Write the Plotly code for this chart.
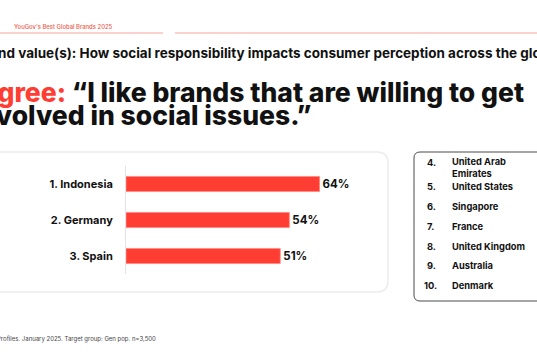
import plotly.graph_objects as go

# ---------------- data ----------------
top_ranks = [1, 2, 3]
top_countries = ["Indonesia", "Germany", "Spain"]
top_values = [64, 54, 51]

other_ranks = ["4.", "5.", "6.", "7.", "8.", "9.", "10."]
other_countries = ["United Arab<br>Emirates", "United States", "Singapore", "France",
                   "United Kingdom", "Australia", "Denmark"]

header = "YouGov's Best Global Brands 2025"
subtitle = "Brand value(s): How social responsibility impacts consumer perception across the globe"
title_l1_red = "Agree:"
title_l1 = "“I like brands that are willing to get"
title_l2 = "involved in social issues.”"
footer = "Source: YouGov Global Profiles. January 2025. Target group: Gen pop. n=3,500"

RED = "#FF3D33"
FONT = "Inter"
W, H = 537, 360
L, R, T, B = 126, 169, 166, 86
PW, PH = W - L - R, H - T - B

def px(x):
    return (x - L) / PW

def py(y):
    return (H - B - y) / PH

labels = [f"{r}. {c}" for r, c in zip(top_ranks, top_countries)]

fig = go.Figure()
fig.add_trace(go.Bar(
    x=top_values, y=top_countries, orientation="h",
    marker=dict(color=RED, line=dict(color="#ff8a80", width=0.8)),
    text=[f"{v}%" for v in top_values], textposition="outside",
    textfont=dict(size=11.5, color="#111", family=FONT, weight=700),
    cliponaxis=False, hoverinfo="skip", showlegend=False,
))

def rrect(x0, y0, x1, y1, r):
    rx, ry = r / PW, r / PH
    X0, X1, Y0, Y1 = px(x0), px(x1), py(y0), py(y1)
    return (f"M {X0+rx},{Y0} L {X1-rx},{Y0} Q {X1},{Y0} {X1},{Y0-ry} "
            f"L {X1},{Y1+ry} Q {X1},{Y1} {X1-rx},{Y1} L {X0+rx},{Y1} "
            f"Q {X0},{Y1} {X0},{Y1+ry} L {X0},{Y0-ry} Q {X0},{Y0} {X0+rx},{Y0} Z")

shapes = [
    dict(type="path", xref="paper", yref="paper", path=rrect(-30, 152, 388, 292, 11),
         line=dict(color="#ececec", width=1.5), fillcolor="white", layer="below"),
    dict(type="path", xref="paper", yref="paper", path=rrect(414, 152, 580, 301, 6),
         line=dict(color="#4a4a4a", width=1), fillcolor="white", layer="below"),
    dict(type="line", xref="paper", yref="paper", x0=px(0), x1=px(163), y0=py(33), y1=py(33),
         line=dict(color="#f7a39c", width=1)),
    dict(type="line", xref="paper", yref="paper", x0=px(175), x1=px(537), y0=py(33), y1=py(33),
         line=dict(color="#f7a39c", width=1)),
]

ann = []
def add_text(text, x, y, size, color="#111", anchor="left", weight=400):
    ann.append(dict(text=text, x=px(x), y=py(y), xref="paper", yref="paper",
                    xanchor=anchor, yanchor="middle", showarrow=False, align="left",
                    font=dict(size=size, color=color, family=FONT, weight=weight)))

add_text(header, 12, 27, 5.9, color="#ee5a4c", weight=500)
add_text(subtitle, -26, 53, 13.5, weight=700)
add_text(f"<span style='color:{RED}'>{title_l1_red}</span> {title_l1}", -24, 92, 26.5, weight=800)
add_text(title_l2, -30, 115, 26.5, weight=800)
add_text(footer, 158, 339, 6.0, color="#444", anchor="right")

row_y = [167, 186, 206, 226, 246, 265, 285]
for rk, ctry, yy in zip(other_ranks, other_countries, row_y):
    add_text(rk, 422 if rk == "10." else 425, 162 if rk == "4." else yy, 9.3, weight=700)
    add_text(ctry, 450, yy, 9.3, weight=700)

fig.update_layout(
    width=W, height=H, margin=dict(l=L, r=R, t=T, b=B, autoexpand=False),
    paper_bgcolor="white", plot_bgcolor="rgba(0,0,0,0)",
    shapes=shapes, annotations=ann, bargap=0.58,
    font=dict(family=FONT, color="#111"),
    xaxis=dict(range=[0, 80], visible=False, fixedrange=True),
    yaxis=dict(categoryorder="array", categoryarray=top_countries, autorange="reversed",
               tickvals=top_countries, ticktext=labels, showgrid=False, zeroline=False,
               showline=True, linecolor="#e2e2e2", linewidth=1, ticks="",
               ticklabelstandoff=10, fixedrange=True,
               tickfont=dict(size=11, color="#111", family=FONT, weight=700)),
)

fig.write_html("out.html", config={"displayModeBar": False},
               post_script="document.body.style.margin='0';")
